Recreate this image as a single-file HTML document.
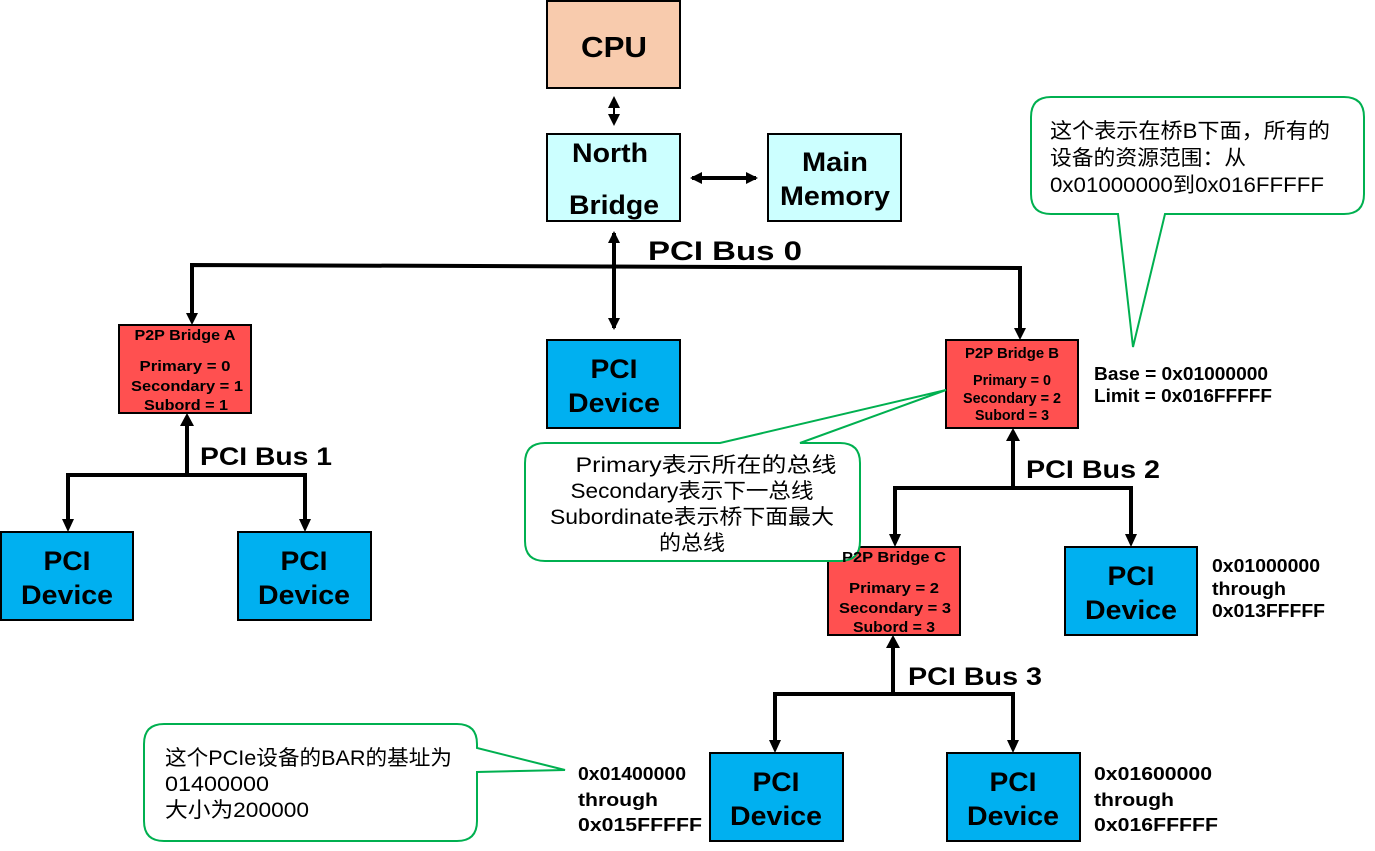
<!DOCTYPE html>
<html><head><meta charset="utf-8"><style>
body{margin:0;background:#fff}
svg{display:block}
.b{font-family:"Liberation Sans",Arial,sans-serif;font-weight:bold}
.c{font-family:"Liberation Sans","Noto Sans CJK SC",sans-serif}
</style></head><body>
<svg width="1375" height="851" viewBox="0 0 1375 851" xmlns="http://www.w3.org/2000/svg">
<defs>
<marker id="a2" markerWidth="12" markerHeight="12" refX="10" refY="6" orient="auto-start-reverse" markerUnits="userSpaceOnUse"><path d="M0,0 L12,6 L0,12 Z" fill="#000"/></marker>
</defs>
<g stroke="#000" stroke-width="2">
<rect x="547" y="1" width="133" height="87" fill="#F8CBAD"/>
<rect x="547" y="134" width="133" height="87" fill="#CCFFFF"/>
<rect x="768" y="134" width="133" height="87" fill="#CCFFFF"/>
<rect x="119" y="325" width="132" height="88" fill="#FF5050"/>
<rect x="946" y="340" width="132" height="88" fill="#FF5050"/>
<rect x="828" y="547" width="132" height="88" fill="#FF5050"/>
<rect x="547" y="340" width="133" height="88" fill="#00B0F0"/>
<rect x="1" y="532" width="132" height="88" fill="#00B0F0"/>
<rect x="238" y="532" width="133" height="88" fill="#00B0F0"/>
<rect x="1065" y="547" width="132" height="88" fill="#00B0F0"/>
<rect x="710" y="753" width="133" height="88" fill="#00B0F0"/>
<rect x="947" y="753" width="133" height="88" fill="#00B0F0"/>
</g>
<g stroke="#000" fill="none" stroke-width="2">
<line x1="614" y1="98" x2="614" y2="124" marker-start="url(#a2)" marker-end="url(#a2)"/>
</g>
<g stroke="#000" fill="none" stroke-width="4">
<line x1="692" y1="178" x2="756" y2="178" marker-start="url(#a2)" marker-end="url(#a2)"/>
<line x1="614" y1="233" x2="614" y2="328" marker-start="url(#a2)" marker-end="url(#a2)"/>
<polyline points="192,313 192,265 1020,268 1020,328"/>
<path d="M186,313 L192,325 L198,313Z M1014,328 L1020,340 L1026,328Z" fill="#000" stroke="none"/>
<line x1="187" y1="475" x2="187" y2="425"/><path d="M180,426 L187,413 L194,426Z" fill="#000" stroke="none"/>
<polyline points="68,520 68,475 305,475 305,520"/>
<path d="M62,519 L68,532 L74,519Z M299,519 L305,532 L311,519Z" fill="#000" stroke="none"/>
<line x1="1013" y1="488" x2="1013" y2="440"/><path d="M1006,441 L1013,428 L1020,441Z" fill="#000" stroke="none"/>
<polyline points="895,535 895,488 1131,488 1131,535"/>
<path d="M889,534 L895,547 L901,534Z M1125,534 L1131,547 L1137,534Z" fill="#000" stroke="none"/>
<line x1="893" y1="694" x2="893" y2="647"/><path d="M886,648 L893,635 L900,648Z" fill="#000" stroke="none"/>
<polyline points="775,741 775,694 1013,694 1013,741"/>
<path d="M769,740 L775,753 L781,740Z M1007,740 L1013,753 L1019,740Z" fill="#000" stroke="none"/>
</g>
<g fill="#fff" stroke="#00B050" stroke-width="2">
<path d="M1051,97 H1344 Q1364,97 1364,117 V194 Q1364,214 1344,214 H1165 L1133,347 L1118,214 H1051 Q1031,214 1031,194 V117 Q1031,97 1051,97Z"/>
<path d="M545,443 H720 L946,390 L800,443 H840 Q860,443 860,463 V541 Q860,561 840,561 H545 Q525,561 525,541 V463 Q525,443 545,443Z"/>
<path d="M164,724 H457 Q477,724 477,744 V748 L565,770 L477,772 V821 Q477,841 457,841 H164 Q144,841 144,821 V744 Q144,724 164,724Z"/>
</g>
<g class="b" text-anchor="middle" fill="#000">
<text x="614" y="57" font-size="29" textLength="66" lengthAdjust="spacingAndGlyphs">CPU</text>
<text x="610" y="162" font-size="27" textLength="76" lengthAdjust="spacingAndGlyphs">North</text>
<text x="614" y="214" font-size="27" textLength="90" lengthAdjust="spacingAndGlyphs">Bridge</text>
<text x="835" y="171" font-size="27" textLength="66" lengthAdjust="spacingAndGlyphs">Main</text>
<text x="835" y="205" font-size="27" textLength="110" lengthAdjust="spacingAndGlyphs">Memory</text>
<text x="725" y="260" font-size="27" textLength="154" lengthAdjust="spacingAndGlyphs">PCI Bus 0</text>
<g font-size="27">
<text x="614" y="378" textLength="47" lengthAdjust="spacingAndGlyphs">PCI</text>
<text x="614" y="412" textLength="92" lengthAdjust="spacingAndGlyphs">Device</text>
<text x="67" y="570" textLength="47" lengthAdjust="spacingAndGlyphs">PCI</text><text x="67" y="604" textLength="92" lengthAdjust="spacingAndGlyphs">Device</text>
<text x="304" y="570" textLength="47" lengthAdjust="spacingAndGlyphs">PCI</text><text x="304" y="604" textLength="92" lengthAdjust="spacingAndGlyphs">Device</text>
<text x="1131" y="585" textLength="47" lengthAdjust="spacingAndGlyphs">PCI</text><text x="1131" y="619" textLength="92" lengthAdjust="spacingAndGlyphs">Device</text>
<text x="776" y="791" textLength="47" lengthAdjust="spacingAndGlyphs">PCI</text><text x="776" y="825" textLength="92" lengthAdjust="spacingAndGlyphs">Device</text>
<text x="1013" y="791" textLength="47" lengthAdjust="spacingAndGlyphs">PCI</text><text x="1013" y="825" textLength="92" lengthAdjust="spacingAndGlyphs">Device</text>
</g>
<g font-size="15">
<text x="185" y="340" textLength="101" lengthAdjust="spacingAndGlyphs">P2P Bridge A</text>
<text x="185" y="371" textLength="91" lengthAdjust="spacingAndGlyphs">Primary = 0</text>
<text x="187" y="391" textLength="112" lengthAdjust="spacingAndGlyphs">Secondary = 1</text>
<text x="186" y="410" textLength="84" lengthAdjust="spacingAndGlyphs">Subord = 1</text>
<text x="1012" y="358" textLength="94" lengthAdjust="spacingAndGlyphs">P2P Bridge B</text>
<text x="1012" y="385" textLength="78" lengthAdjust="spacingAndGlyphs">Primary = 0</text>
<text x="1012" y="403" textLength="98" lengthAdjust="spacingAndGlyphs">Secondary = 2</text>
<text x="1012" y="420" textLength="74" lengthAdjust="spacingAndGlyphs">Subord = 3</text>
<text x="894" y="562" textLength="104" lengthAdjust="spacingAndGlyphs">P2P Bridge C</text>
<text x="894" y="593" textLength="90" lengthAdjust="spacingAndGlyphs">Primary = 2</text>
<text x="895" y="613" textLength="112" lengthAdjust="spacingAndGlyphs">Secondary = 3</text>
<text x="894" y="632" textLength="82" lengthAdjust="spacingAndGlyphs">Subord = 3</text>
</g>
</g>
<g class="b" fill="#000">
<text x="200" y="465" font-size="25" textLength="132" lengthAdjust="spacingAndGlyphs">PCI Bus 1</text>
<text x="1026" y="478" font-size="25" textLength="134" lengthAdjust="spacingAndGlyphs">PCI Bus 2</text>
<text x="908" y="685" font-size="25" textLength="134" lengthAdjust="spacingAndGlyphs">PCI Bus 3</text>
<g font-size="18">
<text x="1094" y="380" textLength="174" lengthAdjust="spacingAndGlyphs">Base = 0x01000000</text>
<text x="1094" y="402" textLength="178" lengthAdjust="spacingAndGlyphs">Limit = 0x016FFFFF</text>
<text x="1212" y="572" textLength="108" lengthAdjust="spacingAndGlyphs">0x01000000</text><text x="1212" y="595" textLength="74" lengthAdjust="spacingAndGlyphs">through</text><text x="1212" y="617" textLength="113" lengthAdjust="spacingAndGlyphs">0x013FFFFF</text>
<text x="578" y="780" textLength="108" lengthAdjust="spacingAndGlyphs">0x01400000</text><text x="578" y="806" textLength="80" lengthAdjust="spacingAndGlyphs">through</text><text x="578" y="831" textLength="124" lengthAdjust="spacingAndGlyphs">0x015FFFFF</text>
<text x="1094" y="780" textLength="118" lengthAdjust="spacingAndGlyphs">0x01600000</text><text x="1094" y="806" textLength="80" lengthAdjust="spacingAndGlyphs">through</text><text x="1094" y="831" textLength="124" lengthAdjust="spacingAndGlyphs">0x016FFFFF</text>
</g>
</g>
<g class="c" fill="#000" font-size="21">
<text x="1050" y="138" textLength="280" lengthAdjust="spacingAndGlyphs">这个表示在桥B下面，所有的</text>
<text x="1050" y="165" textLength="196" lengthAdjust="spacingAndGlyphs">设备的资源范围：从</text>
<text x="1050" y="192" textLength="274" lengthAdjust="spacingAndGlyphs">0x01000000到0x016FFFFF</text>
<g text-anchor="middle">
<text x="706" y="472" textLength="261" lengthAdjust="spacingAndGlyphs">Primary表示所在的总线</text>
<text x="692" y="498" textLength="243" lengthAdjust="spacingAndGlyphs">Secondary表示下一总线</text>
<text x="692" y="524" textLength="284" lengthAdjust="spacingAndGlyphs">Subordinate表示桥下面最大</text>
<text x="692" y="550" textLength="66" lengthAdjust="spacingAndGlyphs">的总线</text>
</g>
<text x="165" y="765" textLength="287" lengthAdjust="spacingAndGlyphs">这个PCIe设备的BAR的基址为</text>
<text x="165" y="791" textLength="104" lengthAdjust="spacingAndGlyphs">01400000</text>
<text x="165" y="817" textLength="144" lengthAdjust="spacingAndGlyphs">大小为200000</text>
</g>
</svg>
</body></html>
